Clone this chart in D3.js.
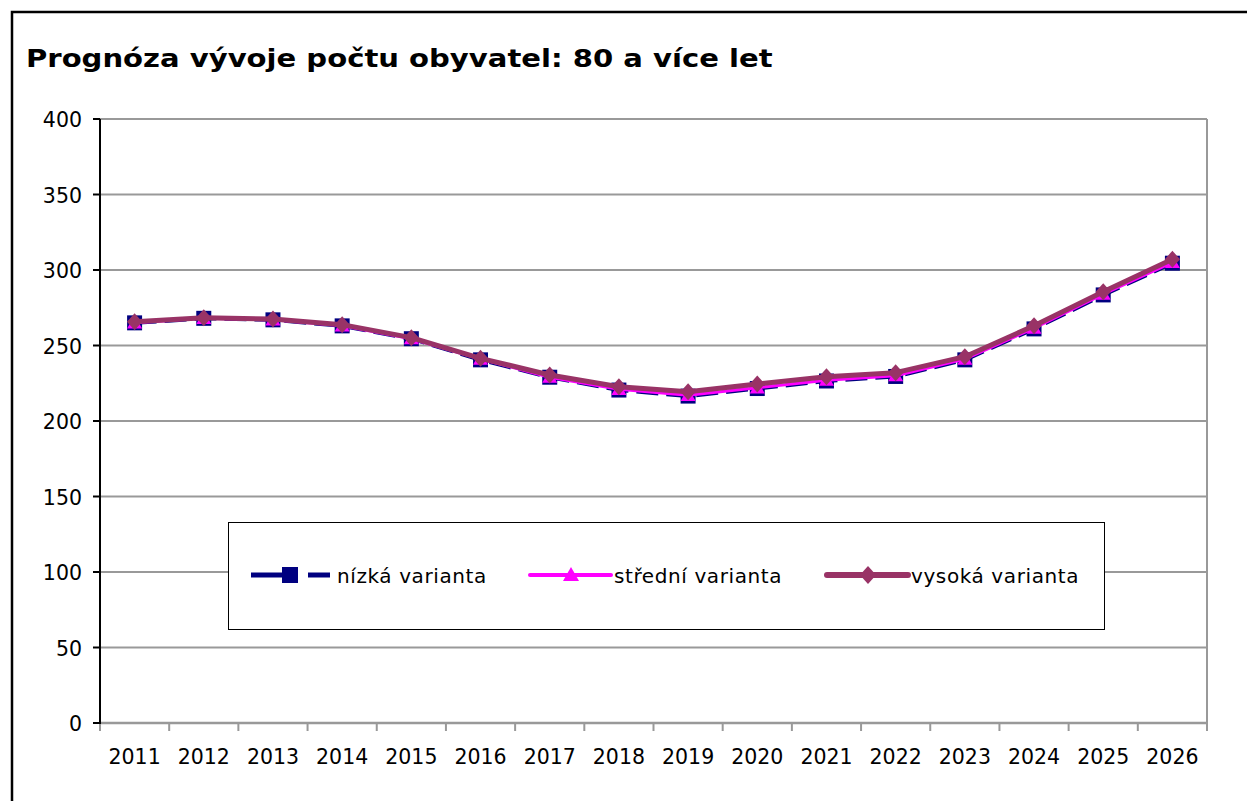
<!DOCTYPE html>
<html>
<head>
<meta charset="utf-8">
<script src="https://cdn.jsdelivr.net/npm/d3@7"></script>
<style>
  body { margin: 0; background: #fff; overflow: hidden; }
  svg { display: block; font-family: "DejaVu Sans", Verdana, sans-serif; }
</style>
</head>
<body>
<div id="chart"></div>
<script>
const years = ["2011","2012","2013","2014","2015","2016","2017","2018","2019","2020","2021","2022","2023","2024","2025","2026"];
const nizka   = [265, 268, 267, 263, 254.5, 240.5, 229, 220.5, 216.5, 221.5, 226.5, 229.5, 240.5, 261, 283.5, 304.5];
const stredni = [265, 268, 267, 263, 254.5, 241, 229, 221, 217, 222, 227, 230, 241, 261.5, 284, 305];
const vysoka  = [265.8, 268.4, 267.5, 263.8, 255.2, 241.5, 230.5, 222.7, 219.4, 224.5, 229.3, 232, 242.6, 263.1, 285.6, 307.1];
const yTicks = [0, 50, 100, 150, 200, 250, 300, 350, 400];
const seriesNames = ["nízká varianta", "střední varianta", "vysoká varianta"];

const W = 1247, H = 801;
const plot = { left: 100, right: 1207, top: 119, bottom: 723 };

const svg = d3.select("#chart").append("svg")
  .attr("width", W).attr("height", H);

// outer frame (only top and left edges are visible)
svg.append("path")
  .attr("d", `M12,${H}V12H${W}`)
  .attr("fill", "none").attr("stroke", "#000").attr("stroke-width", 2.5);

// title - stretched horizontally to get the wide bold look
svg.append("text")
  .attr("transform", "translate(26,67) scale(1.163,1)")
  .attr("font-size", 25).attr("font-weight", "bold")
  .text("Prognóza vývoje počtu obyvatel: 80 a více let");

const x = d3.scaleBand().domain(years).range([plot.left, plot.right]);
const y = d3.scaleLinear().domain([0, 400]).range([plot.bottom, plot.top]);

// gridlines
svg.append("g").selectAll("line").data(yTicks.filter(d => d > 0)).join("line")
  .attr("x1", plot.left).attr("x2", plot.right)
  .attr("y1", d => y(d)).attr("y2", d => y(d))
  .attr("stroke", "#999").attr("stroke-width", 2);

// right border of plot area
svg.append("line")
  .attr("x1", plot.right).attr("x2", plot.right)
  .attr("y1", plot.top).attr("y2", plot.bottom)
  .attr("stroke", "#999").attr("stroke-width", 2);

// x axis
const xBounds = years.map(d => x(d)).concat([plot.right]);
svg.append("line")
  .attr("x1", plot.left).attr("x2", plot.right)
  .attr("y1", plot.bottom).attr("y2", plot.bottom)
  .attr("stroke", "#999").attr("stroke-width", 2.5);
svg.append("g").selectAll("line").data(xBounds).join("line")
  .attr("x1", d => d).attr("x2", d => d)
  .attr("y1", plot.bottom).attr("y2", plot.bottom + 8)
  .attr("stroke", "#999").attr("stroke-width", 2);
svg.append("g").selectAll("text").data(years).join("text")
  .attr("x", d => x(d) + x.bandwidth() / 2)
  .attr("y", 764)
  .attr("text-anchor", "middle")
  .attr("font-size", 20.5)
  .text(d => d);

// y axis
svg.append("line")
  .attr("x1", plot.left).attr("x2", plot.left)
  .attr("y1", plot.top).attr("y2", plot.bottom + 1)
  .attr("stroke", "#000").attr("stroke-width", 2);
svg.append("g").selectAll("line").data(yTicks).join("line")
  .attr("x1", plot.left - 7).attr("x2", plot.left)
  .attr("y1", d => y(d)).attr("y2", d => y(d))
  .attr("stroke", "#000").attr("stroke-width", 2);
svg.append("g").selectAll("text").data(yTicks).join("text")
  .attr("x", 82).attr("y", d => y(d) + 8)
  .attr("text-anchor", "end")
  .attr("font-size", 20.5)
  .text(d => d);

// series
const series = [
  { name: seriesNames[0], values: nizka, color: "#000080", width: 4, dash: "22,8", marker: "square", size: 15 },
  { name: seriesNames[1], values: stredni, color: "#FF00FF", width: 3, dash: null, marker: "triangle", size: 15 },
  { name: seriesNames[2], values: vysoka, color: "#993366", width: 5, dash: null, marker: "diamond", size: 17 }
];

const line = d3.line().x((d, i) => x(years[i]) + x.bandwidth() / 2).y(d => y(d));

function markerPath(type, s) {
  const h = s / 2;
  if (type === "square") return `M${-h},${-h}H${h}V${h}H${-h}Z`;
  if (type === "triangle") return `M0,${-h}L${h},${h * 0.75}L${-h},${h * 0.75}Z`;
  return `M0,${-h}L${h * 0.9},0L0,${h}L${-h * 0.9},0Z`;
}

series.forEach(s => {
  svg.append("path").datum(s.values)
    .attr("d", line)
    .attr("fill", "none")
    .attr("stroke", s.color)
    .attr("stroke-width", s.width)
    .attr("stroke-dasharray", s.dash)
    .attr("stroke-linejoin", "round");
  svg.append("g").selectAll("path").data(s.values).join("path")
    .attr("transform", (d, i) => `translate(${x(years[i]) + x.bandwidth() / 2},${y(d)})`)
    .attr("d", markerPath(s.marker, s.size))
    .attr("fill", s.color);
});

// legend
const legend = svg.append("g");
legend.append("rect")
  .attr("x", 228.5).attr("y", 522.5).attr("width", 876).attr("height", 107)
  .attr("fill", "#fff").attr("stroke", "#000").attr("stroke-width", 1);

const legendX = [251, 529, 826];
const legendY = 575;
series.forEach((s, i) => {
  const lx = legendX[i];
  if (s.dash) {
    legend.append("line").attr("x1", lx).attr("x2", lx + 37)
      .attr("y1", legendY).attr("y2", legendY)
      .attr("stroke", s.color).attr("stroke-width", 5);
    legend.append("line").attr("x1", lx + 57).attr("x2", lx + 79)
      .attr("y1", legendY).attr("y2", legendY)
      .attr("stroke", s.color).attr("stroke-width", 5);
  } else {
    legend.append("line").attr("x1", lx + 1).attr("x2", lx + 82)
      .attr("y1", legendY).attr("y2", legendY)
      .attr("stroke", s.color).attr("stroke-width", s.width + 1)
      .attr("stroke-linecap", "round");
  }
  legend.append("path")
    .attr("transform", `translate(${lx + (s.dash ? 39 : 42)},${legendY})`)
    .attr("d", markerPath(s.marker, s.size + 1))
    .attr("fill", s.color);
  legend.append("text")
    .attr("x", lx + (s.dash ? 86 : 85)).attr("y", legendY + 8)
    .attr("font-size", 20)
    .attr("letter-spacing", 0.6)
    .text(s.name);
});
</script>
</body>
</html>
